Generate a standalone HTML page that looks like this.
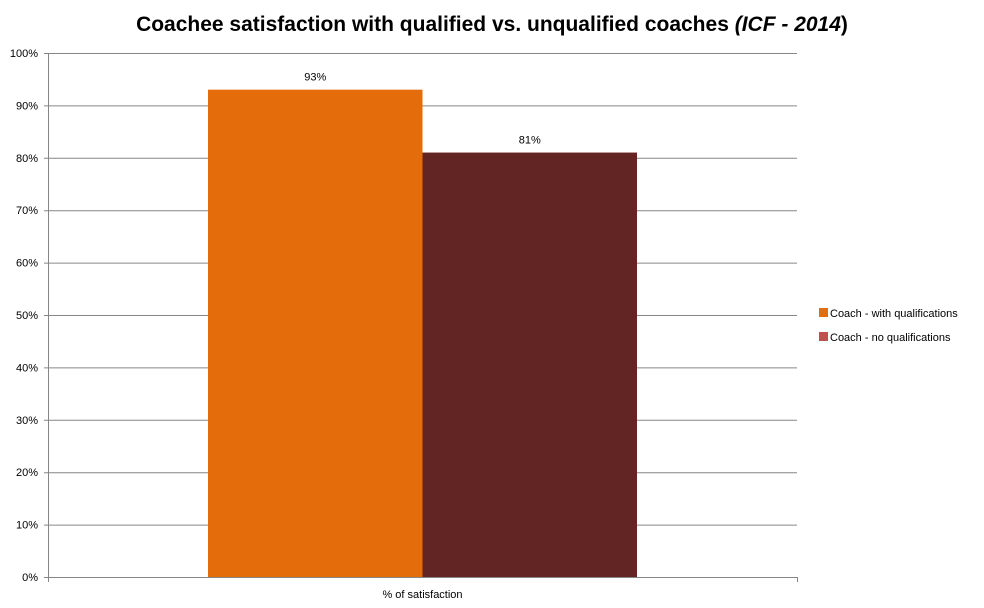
<!DOCTYPE html>
<html><head><meta charset="utf-8"><style>
body{margin:0;background:#fff;font-family:"Liberation Sans",sans-serif;}
</style></head><body>
<svg id="c" width="984" height="603" xmlns="http://www.w3.org/2000/svg">
<text x="492" y="31" text-anchor="middle" font-size="21" font-weight="bold" fill="#000">Coachee satisfaction with qualified vs. unqualified coaches <tspan font-style="italic">(ICF - 2014</tspan>)</text>
<g id="grid"></g><g id="bars"></g><g id="axes"></g>
<g>
<rect x="819" y="308" width="9" height="9" fill="#E46C0A"/>
<text x="830" y="317" font-size="11" fill="#000">Coach - with qualifications</text>
<rect x="819" y="332" width="9" height="9" fill="#C0504D"/>
<text x="830" y="341" font-size="11" fill="#000">Coach - no qualifications</text>
</g>
</svg>
<script>
const categories=["% of satisfaction"];
const seriesWith=[93];
const seriesWithout=[81];
const tickValues=[0,10,20,30,40,50,60,70,80,90,100];
const ns="http://www.w3.org/2000/svg";
const x0=48,x1=797,y0=577,y1=53;
function y(v){return y0-(v/100)*(y0-y1);}
function mk(t,a,p){const e=document.createElementNS(ns,t);for(const k in a)e.setAttribute(k,a[k]);p.appendChild(e);return e;}
const grid=document.getElementById('grid'),bars=document.getElementById('bars'),axes=document.getElementById('axes');
tickValues.forEach(v=>{
 const l=mk('line',{x1:x0-4,x2:x1,y1:y(v)+0.5,y2:y(v)+0.5,stroke:'#868686','stroke-width':1},grid);
 
 
 const t=mk('text',{x:x0-10,y:y(v)+4,'text-anchor':'end','font-size':11,fill:'#000'},axes);
 t.textContent=v+'%';
 
 
});
const ax=mk('line',{x1:x0+0.5,x2:x0+0.5,y1:y1,y2:y0,stroke:'#868686'},axes);


const catW=(x1-x0)/categories.length;
categories.forEach((c,i)=>{
 const cx=x0+catW*(i+0.5), bw=214.5;
 [[seriesWith[i],'#E46C0A',cx-bw,'bar-with'],[seriesWithout[i],'#632523',cx,'bar-without']].forEach(([v,col,bx,nm])=>{
  const r=mk('rect',{x:bx,y:y(v),width:bw,height:y0-y(v),fill:col},bars);
  
  
  const t=mk('text',{x:bx+bw/2,y:y(v)-9,'text-anchor':'middle','font-size':11,fill:'#000'},bars);
  t.textContent=v+'%';
  
  
 });
 const t=mk('text',{x:cx,y:598,'text-anchor':'middle','font-size':11,fill:'#000'},axes);
 t.textContent=c;
 
 
});
[x0,x1].forEach(xx=>{const l=mk('line',{x1:xx+0.5,x2:xx+0.5,y1:y0,y2:y0+5,stroke:'#868686'},axes);
 
 });
</script>
</body></html>
